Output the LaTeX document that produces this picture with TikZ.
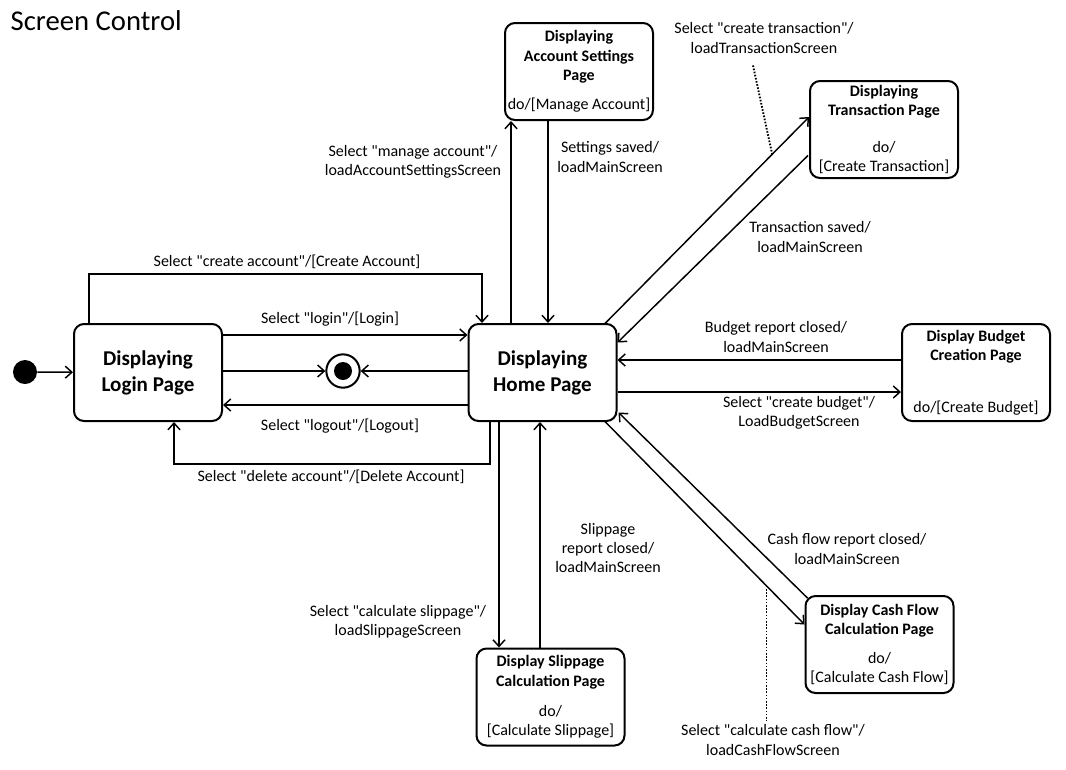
\documentclass[tikz,border=0pt]{standalone}
\usepackage{fontspec}
\setmainfont{Carlito}[Ligatures=TeXOff]
\usetikzlibrary{arrows.meta, positioning, calc}

\begin{document}
\begin{tikzpicture}[x=0.75pt, y=-0.75pt,
  >={Straight Barb[length=5pt, width=9pt]},
  state/.style={draw, line width=1.5pt, rounded corners=7.5pt, minimum width=111pt, minimum height=72.75pt, inner sep=0pt, align=center, font=\fontsize{12}{14.6}\selectfont},
  mainstate/.style={state, font=\fontsize{15.8}{19.5}\selectfont\bfseries},
  move/.style={->, line width=1.1pt},
  lbl/.style={align=center, inner sep=0pt, font=\fontsize{12}{14.3}\selectfont},
  note/.style={line width=1.4pt, dash pattern=on 1.2pt off 1.2pt}]
  \useasboundingbox (0,0) rectangle (1066,769);

  \node[anchor=west, font=\fontsize{21.5}{24}\selectfont] (title) at (6,21) {Screen Control};

  % states
  \node[circle, fill, minimum size=18pt, inner sep=0pt] (init) at (25,372) {};
  \node[circle, draw, line width=1.5pt, minimum size=25pt, inner sep=0pt] (final) at (343,371) {};
  \fill (final.center) circle[radius=6.75pt];
  \node[mainstate] (login) at (148,372.5) {Displaying\\Login Page};
  \node[mainstate] (home) at (542.5,372.5) {Displaying\\Home Page};
  \node[state] (settings) at (579,71.5) {\textbf{Displaying}\\\textbf{Account Settings}\\\textbf{Page}\\[7pt]do/[Manage Account]};
  \node[state] (transaction) at (884,129.5) {\textbf{Displaying}\\\textbf{Transaction Page}\\[13pt]do/\\{[}Create Transaction]};
  \node[state] (budget) at (976,372.5) {\textbf{Display Budget}\\\textbf{Creation Page}\\[24pt]do/[Create Budget]};
  \node[state] (slippage) at (550.5,697) {\textbf{Display Slippage}\\\textbf{Calculation Page}\\[8pt]do/\\{[}Calculate Slippage]};
  \node[state] (cashflow) at (879.5,644.5) {\textbf{Display Cash Flow}\\\textbf{Calculation Page}\\[7pt]do/\\{[}Calculate Cash Flow]};

  % transitions
  \draw[move] (init) -- (login);
  \draw[move] ([shift={(16,0)}]login.north west) -- ++(0,-49) -| ([shift={(-60.5,0)}]home.north);
  \draw[move] ([shift={(0,-37.5)}]login.east) -- ([shift={(0,-37.5)}]home.west);
  \draw[move] (login.east |- final) -- (final);
  \draw[move] (home.west |- final) -- (final);
  \draw[move] ([shift={(0,32.5)}]home.west) -- ([shift={(0,32.5)}]login.east);
  \draw[move] ([shift={(-52.5,0)}]home.south) -- ++(0,42) -| ([shift={(26,0)}]login.south);
  \draw[move] ([shift={(-31.5,0)}]home.north) -- ([shift={(-68,0)}]settings.south);
  \draw[move] ([shift={(-31,0)}]settings.south) -- ([shift={(5.5,0)}]home.north);
  \draw[move] ([shift={(-13,1)}]home.north east) -- node[pos=0.82, coordinate] (onTrans) {} ([shift={(0,-12.5)}]transaction.west);
  \draw[move] ([shift={(-1,26)}]transaction.west) -- ([shift={(0,-30)}]home.east);
  \draw[move] ([shift={(0,-12.5)}]budget.west) -- ([shift={(0,-12.5)}]home.east);
  \draw[move] ([shift={(0,19.5)}]home.east) -- ([shift={(0,19.5)}]budget.west);
  \draw[move] ([shift={(3,3)}]cashflow.north west) -- ([shift={(1,40)}]home.east);
  \draw[move] ([shift={(-13,-1)}]home.south east) -- node[pos=0.81, coordinate] (onCash) {} ([shift={(0,-20)}]cashflow.west);
  \draw[move] ([shift={(-43.5,0)}]home.south) -- ([shift={(-51.5,0)}]slippage.north);
  \draw[move] ([shift={(-10.5,0)}]slippage.north) -- ([shift={(-2.5,0)}]home.south);

  % labels
  \node[lbl] (lblCreate) at (287,262) {Select "create account"/[Create Account]};
  \node[lbl] (lblLogin) at (330,319) {Select "login"/[Login]};
  \node[lbl] (lblLogout) at (340,426) {Select "logout"/[Logout]};
  \node[lbl] (lblDelete) at (331,477) {Select "delete account"/[Delete Account]};
  \node[lbl] (lblManage) at (413,162) {Select "manage account"/\\loadAccountSettingsScreen};
  \node[lbl] (lblSaved) at (610,157) {Settings saved/\\loadMainScreen};
  \node[lbl] (lblTrans) at (764,38) {Select "create transaction"/\\loadTransactionScreen};
  \node[lbl] (lblTransSaved) at (810,237) {Transaction saved/\\loadMainScreen};
  \node[lbl] (lblBudgetClosed) at (776,337) {Budget report closed/\\loadMainScreen};
  \node[lbl] (lblBudget) at (799,413) {Select "create budget"/\\LoadBudgetScreen};
  \node[lbl] (lblCashClosed) at (847,549) {Cash flow report closed/\\loadMainScreen};
  \node[lbl] (lblCash) at (773,740) {Select "calculate cash flow"/\\loadCashFlowScreen};
  \node[lbl] (lblSlipClosed) at (608,548) {Slippage\\report closed/\\loadMainScreen};
  \node[lbl] (lblSlip) at (398,622) {Select "calculate slippage"/\\loadSlippageScreen};

  \draw[note] ([shift={(-11,12)}]lblTrans.south) -- (onTrans);
  \draw[note, shorten >=3pt] (onCash) -- (onCash |- lblCash.north);
\end{tikzpicture}
\end{document}
